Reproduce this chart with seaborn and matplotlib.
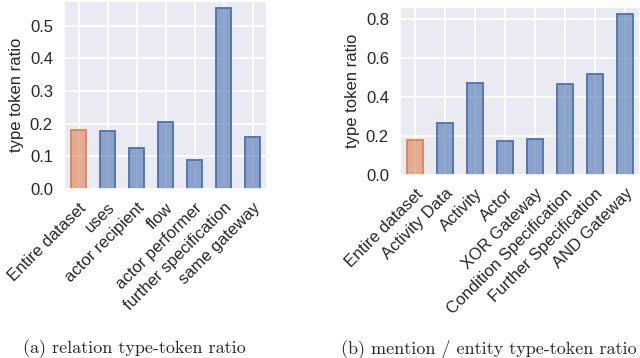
import matplotlib
matplotlib.use("Agg")
import matplotlib.pyplot as plt
import seaborn as sns
import pandas as pd
import numpy as np
from matplotlib.colors import to_rgba

rel_labels = ["Entire dataset", "uses", "actor recipient", "flow", "actor performer",
              "further specification", "same gateway"]
rel_values = [0.180, 0.178, 0.126, 0.205, 0.088, 0.555, 0.160]

ent_labels = ["Entire dataset", "Activity Data", "Activity", "Actor", "XOR Gateway",
              "Condition Specification", "Further Specification", "AND Gateway"]
ent_values = [0.180, 0.265, 0.470, 0.175, 0.183, 0.465, 0.520, 0.825]

sns.set_theme(style="darkgrid")
plt.rcParams['font.family'] = ['Liberation Sans', 'DejaVu Sans']

deep = sns.color_palette("deep")
blue, orange = deep[0], deep[1]

fig = plt.figure(figsize=(6.4, 3.58), dpi=100)
ax1 = fig.add_axes([64/640, 1 - 189/358, 203/640, 188/358])
ax2 = fig.add_axes([400/640, 1 - 175/358, 240/640, 168/358])


def draw(ax, labels, values, ymax, step, caption, cx):
    df = pd.DataFrame({"label": labels, "value": values,
                       "grp": ["all"] + ["cat"] * (len(labels) - 1)})
    sns.barplot(data=df, x="label", y="value", hue="grp",
                palette={"all": orange, "cat": blue}, width=0.55,
                saturation=1, legend=False, ax=ax)
    for p in ax.patches:
        c = p.get_facecolor()
        p.set_facecolor(to_rgba(c[:3], 0.6))
        p.set_edgecolor(to_rgba(c[:3], 1.0))
        p.set_linewidth(1.3)
    ax.set_ylim(0, ymax)
    ax.set_yticks(np.round(np.arange(0, ymax, step), 2))
    ax.set_xlabel("")
    ax.set_ylabel("type token ratio", fontsize=12, labelpad=4)
    ax.tick_params(axis="both", labelsize=12, pad=2)
    ax.set_xticks(range(len(labels)))
    ax.set_xticklabels(labels, rotation=45, ha="right", rotation_mode="anchor")
    ax.set_xlim(-0.5, len(labels) - 0.5)
    ax.grid(True, axis="both", color="white", linewidth=1.2)
    ax.set_axisbelow(True)
    fig.text(cx, 1 - 349/358, caption, ha="center", va="center",
             fontsize=13, family="cmr10")


draw(ax1, rel_labels, rel_values, 0.576, 0.1, "(a) relation type-token ratio", 134/640)
draw(ax2, ent_labels, ent_values, 0.862, 0.2, "(b) mention / entity type-token ratio", 489/640)

fig.savefig("out.png", dpi=100)
